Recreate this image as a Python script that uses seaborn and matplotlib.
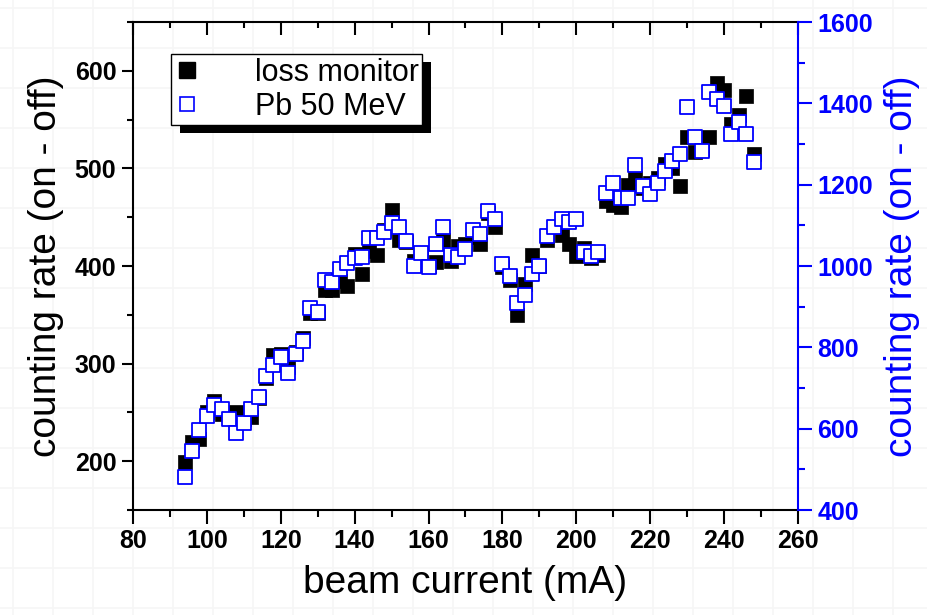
import os
import matplotlib
matplotlib.use("Agg")
import matplotlib.pyplot as plt
import seaborn as sns
import pandas as pd
from matplotlib.lines import Line2D
from matplotlib.patches import Rectangle
from matplotlib.ticker import MultipleLocator, NullFormatter
from matplotlib.transforms import IdentityTransform
from matplotlib import font_manager as fm

# ---------------- data ----------------
beam_current = [94, 96, 98, 100, 102, 104, 106, 108, 110, 112, 114, 116, 118, 120,
                122, 124, 126, 128, 130, 132, 134, 136, 138, 140, 142, 144, 146, 148,
                150, 152, 154, 156, 158, 160, 162, 164, 166, 168, 170, 172, 174, 176,
                178, 180, 182, 184, 186, 188, 190, 192, 194, 196, 198, 200, 202, 204,
                206, 208, 210, 212, 214, 216, 218, 220, 222, 224, 226, 228, 230, 232,
                234, 236, 238, 240, 242, 244, 246, 248]

loss_monitor = [199, 220, 223, 250, 262, 248, 246, 250, 243, 245, 265, 285, 309, 310,
                297, 312, 326, 352, 352, 375, 375, 385, 379, 412, 392, 415, 411, 437,
                457, 427, 425, 405, 410, 400, 404, 427, 405, 420, 423, 430, 423, 454,
                440, 399, 386, 350, 382, 411, 400, 427, 440, 432, 423, 410, 418, 408,
                411, 467, 462, 460, 483, 490, 480, 485, 490, 505, 500, 482, 532, 517,
                520, 532, 587, 580, 545, 555, 574, 515]

pb_50mev = [482, 546, 597, 632, 657, 648, 624, 590, 613, 649, 677, 730, 757, 775,
            736, 783, 816, 896, 887, 966, 961, 992, 1008, 1020, 1021, 1068, 1070, 1084,
            1105, 1097, 1061, 1000, 1033, 998, 1053, 1097, 1027, 1023, 1041, 1089, 1078, 1136,
            1115, 1005, 975, 910, 929, 980, 1000, 1074, 1097, 1116, 1109, 1115, 1035, 1025,
            1035, 1180, 1203, 1166, 1166, 1248, 1197, 1176, 1205, 1234, 1259, 1275, 1392, 1316,
            1284, 1429, 1410, 1393, 1325, 1355, 1325, 1255]

x_ticks = [80, 100, 120, 140, 160, 180, 200, 220, 240, 260]
left_ticks = [200, 300, 400, 500, 600]
right_ticks = [400, 600, 800, 1000, 1200, 1400, 1600]
series_names = ["loss monitor", "Pb 50 MeV"]
x_label = "beam current (mA)"
y_label = "counting rate (on - off)"

df = pd.DataFrame({"beam": beam_current, "loss": loss_monitor, "pb": pb_50mev})

# ---------------- style ----------------
sns.set_theme(style="ticks")
plt.rcParams["font.family"] = ["Liberation Sans", "DejaVu Sans"]
for k in ["text.color", "axes.labelcolor", "xtick.color", "ytick.color", "axes.edgecolor"]:
    plt.rcParams[k] = "black"

# locate the regular-width Liberation Sans Bold file
bold_path = None
for f in fm.findSystemFonts():
    if os.path.basename(f) == "LiberationSans-Bold.ttf":
        bold_path = f
        break
if bold_path is None:
    for f in fm.fontManager.ttflist:
        if f.name == "Liberation Sans" and "Narrow" not in f.fname \
                and f.weight in (700, "bold") and f.style == "normal":
            bold_path = f.fname
            break


def bold_fp(size):
    if bold_path:
        return fm.FontProperties(fname=bold_path, size=size)
    return fm.FontProperties(family="DejaVu Sans", weight="bold", size=size)


W, H = 928, 615
fig = plt.figure(figsize=(W / 100, H / 100), dpi=100)
fig.patch.set_facecolor("white")

# faint background grid of the slide
bg = fig.add_axes([0, 0, 1, 1], zorder=-10)
bg.set_xlim(0, W)
bg.set_ylim(H, 0)
bg.axis("off")
for gx in range(13, W, 40):
    bg.axvline(gx, color="#f6f6f6", lw=1.2)
for gy in range(8, H, 40):
    bg.axhline(gy, color="#f6f6f6", lw=1.2)

L, R, T, B = 133, 798, 22, 510
ax = fig.add_axes([L / W, (H - B) / H, (R - L) / W, (B - T) / H])
ax.set_facecolor("none")

sns.scatterplot(data=df, x="beam", y="loss", marker="s", s=100, color="black",
                edgecolor="black", linewidth=0.5, ax=ax, legend=False, zorder=3)

ax2 = ax.twinx()
sns.scatterplot(data=df, x="beam", y="pb", marker="s", s=92, color="white",
                edgecolor="blue", linewidth=1.3, ax=ax2, legend=False, zorder=3)

# limits and ticks
ax.set_xlim(80, 260)
ax.set_ylim(150, 650)
ax2.set_ylim(400, 1600)

ax.set_xticks(x_ticks, labels=[str(t) for t in x_ticks])
ax.set_yticks(left_ticks, labels=[str(t) for t in left_ticks])
ax2.set_yticks(right_ticks, labels=[str(t) for t in right_ticks])
for lbl in ax.get_xticklabels():
    lbl.set_fontproperties(bold_fp(18))
for lbl in ax.get_yticklabels():
    lbl.set_fontproperties(bold_fp(18))
for lbl in ax2.get_yticklabels():
    lbl.set_fontproperties(bold_fp(18))
    lbl.set_color("blue")
ax.xaxis.set_minor_locator(MultipleLocator(10))
ax.yaxis.set_minor_locator(MultipleLocator(50))
ax2.yaxis.set_minor_locator(MultipleLocator(100))

ax.tick_params(axis="x", which="major", direction="out", length=10, width=1.5, pad=4, colors="black")
ax.tick_params(axis="x", which="minor", direction="out", length=5, width=1.5)
ax.tick_params(axis="y", which="major", direction="out", length=8, width=1.5, pad=4, colors="black")
ax.tick_params(axis="y", which="minor", direction="out", length=4, width=1.5)
ax2.tick_params(axis="y", which="major", direction="out", length=10, width=1.5, pad=4, colors="blue")
ax2.tick_params(axis="y", which="minor", direction="out", length=5, width=1.5, colors="blue")

# top axis: inward ticks, no labels
sec = ax.secondary_xaxis("top")
sec.set_xticks(x_ticks)
sec.xaxis.set_minor_locator(MultipleLocator(10))
sec.xaxis.set_major_formatter(NullFormatter())
sec.tick_params(axis="x", which="major", direction="in", length=9, width=1.5, colors="black")
sec.tick_params(axis="x", which="minor", direction="in", length=4, width=1.5, colors="black")
sec.spines["top"].set_linewidth(1.5)
sec.spines["top"].set_color("black")

for side in ["left", "bottom"]:
    ax.spines[side].set_linewidth(1.5)
    ax.spines[side].set_color("black")
ax.spines["top"].set_visible(False)
ax.spines["right"].set_visible(False)
for side in ["left", "bottom", "top"]:
    ax2.spines[side].set_visible(False)
ax2.spines["right"].set_linewidth(1.5)
ax2.spines["right"].set_color("blue")

ax.set_xlabel(x_label, fontsize=28, labelpad=8, color="black")
ax.set_ylabel(y_label, fontsize=28, labelpad=8, color="black")
ax2.set_ylabel(y_label, fontsize=28, labelpad=8, color="blue")

# legend
h1 = Line2D([], [], marker="s", ls="none", color="black", markersize=11)
h2 = Line2D([], [], marker="s", ls="none", mfc="white", mec="blue", mew=1.2, markersize=9.5)
leg = ax2.legend([h1, h2], series_names, loc="upper left",
                 bbox_to_anchor=((171 - L) / (R - L), (B - 54) / (B - T)),
                 borderaxespad=0, fontsize=22, frameon=True, fancybox=False,
                 edgecolor="black", facecolor="white", framealpha=1,
                 handlelength=0.82, handletextpad=1.8, borderpad=0.12,
                 labelspacing=0.13)
leg.get_frame().set_linewidth(1.0)
for t in leg.get_texts():
    t.set_color("black")
leg.set_zorder(10)

fig.canvas.draw()
bb = leg.get_window_extent()
shadow = Rectangle((bb.x0 + 9, bb.y0 - 8), bb.width, bb.height, facecolor="black",
                   edgecolor="none", zorder=9)
shadow.set_transform(IdentityTransform())
shadow.set_clip_on(False)
ax2.add_artist(shadow)

fig.savefig("out.png", dpi=100)
